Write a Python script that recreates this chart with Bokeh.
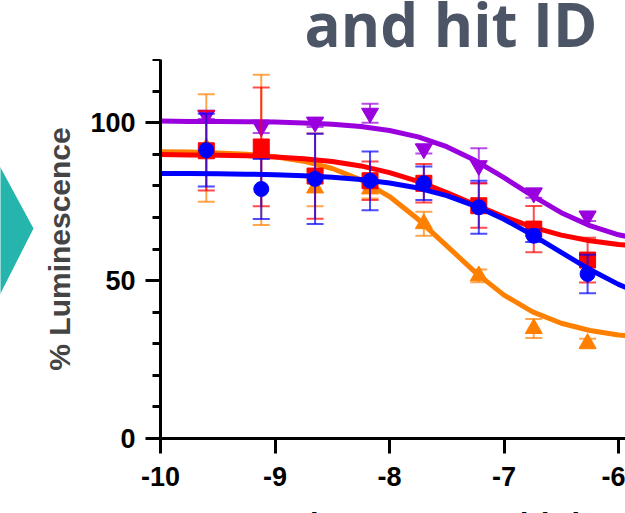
from bokeh.plotting import figure
from bokeh.layouts import row, column
from bokeh.models import Range1d, FixedTicker, ColumnDataSource
from bokeh.core.properties import value
from bokeh.embed import file_html
from bokeh.resources import INLINE

# ---------------- data ----------------
log_conc = [-9.6, -9.12, -8.65, -8.17, -7.7, -7.22, -6.74, -6.27]

purple_mean = [102.4, 98.7, 100.1, 103.0, 91.7, 86.4, 77.7, 70.4]
purple_err = [1.2, 2.0, 1.5, 3.0, 1.5, 5.5, 1.5, 1.5]

red_mean = [91.1, 92.3, 83.1, 81.6, 80.8, 73.7, 66.3, 56.5]
red_err = [12.6, 18.8, 13.5, 6.1, 6.1, 7.0, 7.3, 7.1]

blue_mean = [91.3, 79.0, 82.2, 81.6, 80.8, 73.2, 64.2, 52.1]
blue_err = [11.5, 9.5, 14.3, 9.3, 5.3, 8.4, 2.0, 6.1]

orange_mean = [92.0, 91.4, 79.3, 79.0, 68.0, 51.5, 34.8, 30.1]
orange_err = [17.0, 23.8, 5.8, 3.0, 3.8, 2.0, 3.0, 1.5]

# fitted curves
fit_x = [-10.0, -9.75, -9.5, -9.25, -9.0, -8.75, -8.5, -8.25, -8.0,
         -7.75, -7.5, -7.25, -7.0, -6.75, -6.5, -6.25, -6.0, -5.75]
purple_fit = [100.5, 100.4, 100.4, 100.3, 100.2, 99.9, 99.5, 98.8, 97.5,
              95.5, 92.4, 88.0, 82.6, 76.8, 71.5, 67.4, 64.5, 62.7]
red_fit = [89.9, 89.8, 89.7, 89.5, 89.1, 88.6, 87.7, 86.3, 84.2,
           81.4, 77.9, 74.0, 70.2, 66.9, 64.4, 62.6, 61.4, 60.7]
blue_fit = [83.9, 83.9, 83.8, 83.7, 83.5, 83.2, 82.7, 82.0, 80.9,
            79.3, 76.9, 73.6, 69.4, 64.4, 58.9, 53.5, 48.8, 45.0]
orange_fit = [90.8, 90.7, 90.4, 90.0, 89.2, 87.8, 85.5, 81.9, 76.6,
              69.4, 61.0, 52.6, 45.4, 40.1, 36.5, 34.2, 32.8, 32.0]

x_ticks = [-10, -9, -8, -7, -6]
x_tick_labels = ["-10", "-9", "-8", "-7", "-6"]
y_ticks = [0, 50, 100]
y_tick_labels = ["0", "50", "100"]
y_minor_ticks = [10, 20, 30, 40, 60, 70, 80, 90, 110, 120]

y_title = "% Luminescence"
x_title = "log Compound (M)"
slide_title = "and hit ID"

# ---------------- layout constants (pixels) ----------------
PAGE_W, PAGE_H = 625, 513
CW = 40                      # left decoration strip
MW = PAGE_W - CW             # width of the right column
TOP_H = 59                   # title strip height (frame top of chart)
AXIS_BOTTOM = 438            # page y of the x axis
MAIN_BB = 60                 # room for x tick labels
MAIN_H = AXIS_BOTTOM - TOP_H + MAIN_BB
XT_H = PAGE_H - TOP_H - MAIN_H   # bottom strip holding the cropped x title
BL = 120
FW = MW - BL
X0 = -10.0
X1 = X0 + FW / 114.5
Y0, Y1 = 0.0, 120.0

AX_FONT = "Liberation Sans"


def px_to_x(px):  # page px -> data x
    return X0 + (px - CW - BL) * (X1 - X0) / FW


def strip(width, height, **kw):
    f = figure(width=width, height=height, output_backend="svg",
               toolbar_location=None, x_axis_type=None, y_axis_type=None,
               min_border_top=0, min_border_bottom=0, **kw)
    f.outline_line_color = None
    f.grid.visible = False
    f.background_fill_color = "white"
    f.border_fill_color = "white"
    return f


xr = Range1d(X0, X1)

# ---------------- left strip: teal chevron ----------------
chev = strip(CW, PAGE_H, x_range=Range1d(0, CW), y_range=Range1d(PAGE_H, 0),
             min_border_left=0, min_border_right=0)
chev.patch([-5, 0, 33, 0, -5], [158, 167, 228, 293, 303],
           fill_color="#26B5AC", line_color=None)

# ---------------- top strip: slide title fragment ----------------
top = strip(MW, TOP_H, x_range=xr, y_range=Range1d(TOP_H, 0),
            min_border_left=BL, min_border_right=0)
top.text(x=[px_to_x(304)], y=[23], text=[slide_title], text_align="left",
         text_baseline="alphabetic", text_font=value("Open Sans"),
         text_font_style="bold", text_font_size="60px", text_color="#4B5565")

# ---------------- main chart ----------------
p = figure(width=MW, height=MAIN_H, output_backend="svg", toolbar_location=None,
           x_range=xr, y_range=Range1d(Y0, Y1),
           min_border_left=BL, min_border_right=0,
           min_border_top=0, min_border_bottom=MAIN_BB)
p.outline_line_color = None
p.xgrid.visible = False
p.ygrid.visible = False
p.background_fill_color = "white"
p.border_fill_color = "white"

for ax in (p.xaxis[0], p.yaxis[0]):
    ax.axis_line_width = 3
    ax.axis_line_color = "black"
    ax.major_tick_line_width = 3
    ax.minor_tick_line_width = 3
    ax.major_tick_in = 0
    ax.minor_tick_in = 0
    ax.major_tick_out = 15
    ax.major_label_text_font = AX_FONT
    ax.major_label_text_font_style = "bold"
    ax.major_label_text_font_size = "27px"
    ax.major_label_text_color = "black"

p.xaxis.ticker = FixedTicker(ticks=x_ticks)
p.xaxis.major_label_overrides = dict(zip(x_ticks, x_tick_labels))
p.xaxis.minor_tick_out = 0
p.xaxis.major_label_standoff = 13

p.yaxis.ticker = FixedTicker(ticks=y_ticks, minor_ticks=y_minor_ticks)
p.yaxis.major_label_overrides = dict(zip(y_ticks, y_tick_labels))
p.yaxis.minor_tick_out = 8
p.yaxis.major_label_standoff = 10
p.yaxis.axis_label = y_title
p.yaxis.axis_label_text_font = AX_FONT
p.yaxis.axis_label_text_font_style = "bold"
p.yaxis.axis_label_text_font_size = "30px"
p.yaxis.axis_label_standoff = 11

series = [
    ("orange", "#FF8000", "triangle", 17, orange_mean, orange_err, orange_fit),
    ("purple", "#9A00DD", "inverted_triangle", 17, purple_mean, purple_err, purple_fit),
    ("red", "#FF0000", "square", 16, red_mean, red_err, red_fit),
    ("blue", "#0000FF", "circle", 15, blue_mean, blue_err, blue_fit),
]

for name, color, marker, size, mean, err, fit in series:
    p.line(fit_x, fit, line_color=color, line_width=5)
    upper = [m + e for m, e in zip(mean, err)]
    lower = [m - e for m, e in zip(mean, err)]
    src = ColumnDataSource(dict(x=log_conc, y=mean, up=upper, lo=lower))
    p.segment(x0="x", y0="lo", x1="x", y1="up", source=src,
              line_color=color, line_alpha=0.7, line_width=2)
    p.scatter(x="x", y="up", source=src, marker="dash", size=17,
              line_color=color, line_alpha=0.7, line_width=2)
    p.scatter(x="x", y="lo", source=src, marker="dash", size=17,
              line_color=color, line_alpha=0.7, line_width=2)
    p.scatter(x="x", y="y", source=src, marker=marker, size=size,
              fill_color=color, line_color=color, line_width=1)

# ---------------- bottom strip: x-axis title, cropped as in the reference ----
bot = strip(MW, XT_H, x_range=xr, y_range=Range1d(XT_H, 0),
            min_border_left=BL, min_border_right=0)
bot.text(x=[-7.5], y=[26], text=[x_title], text_align="center",
         text_baseline="alphabetic", text_font=value(AX_FONT),
         text_font_style="bold", text_font_size="31px", text_color="black")

layout = row(chev, column(top, p, bot, spacing=0), spacing=0)
open("out.html", "w").write(file_html(layout, INLINE))
